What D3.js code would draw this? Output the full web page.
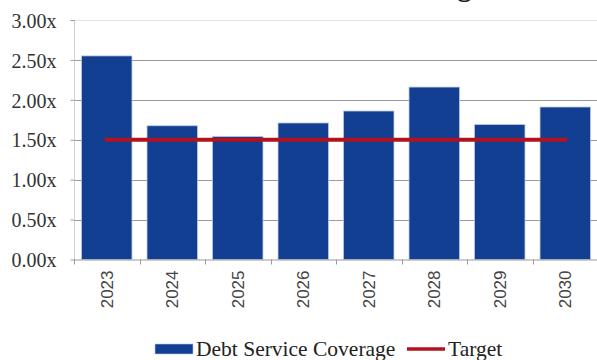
<!DOCTYPE html>
<html>
<head>
<meta charset="utf-8">
<script src="https://cdn.jsdelivr.net/npm/d3@7"></script>
</head>
<body style="margin:0">
<svg id="chart" width="597" height="360"></svg>
<script>
// Debt service coverage by year against the 1.50x target
const years = ["2023", "2024", "2025", "2026", "2027", "2028", "2029", "2030"];
const coverage = [2.55, 1.675, 1.54, 1.71, 1.86, 2.16, 1.69, 1.91];
const target = [1.5, 1.5, 1.5, 1.5, 1.5, 1.5, 1.5, 1.5];
const yTicks = [0, 0.5, 1, 1.5, 2, 2.5, 3];
const seriesNames = ["Debt Service Coverage", "Target"];

const svg = d3.select("#chart").style("display", "block");
const m = { left: 74, right: 598, top: 20, bottom: 259.5 };
const SERIF = '"Liberation Serif"';
const SANS = '"Liberation Sans"';
const barColor = "#123f91";
const lineColor = "#b3121f";

const x = d3.scaleBand().domain(years).range([m.left, m.right]).paddingInner(0.23).paddingOuter(0.115);
const y = d3.scaleLinear().domain([0, 3]).range([m.bottom, m.top]);

// Title (mostly above the visible area)
svg.append("text")
  .attr("x", 484).attr("y", -4)
  .attr("text-anchor", "end")
  .style("font-family", SERIF).style("font-weight", "bold").style("font-size", "28px")
  .attr("fill", "#222")
  .text("Debt Service Coverage");

// Gridlines
svg.append("g").selectAll("line").data(yTicks.filter(d => d > 0)).join("line")
  .attr("x1", m.left).attr("x2", m.right)
  .attr("y1", d => Math.round(y(d)) + 0.5).attr("y2", d => Math.round(y(d)) + 0.5)
  .attr("stroke", d => d === 3 ? "#e2e2e2" : "#9a9a9a")
  .attr("stroke-width", d => d === 3 ? 1 : 1.2);

// Y axis
const yAxis = d3.axisLeft(y).tickValues(yTicks).tickSize(4).tickPadding(14)
  .tickFormat(d => d3.format(".2f")(d) + "x");
const ya = svg.append("g").attr("transform", `translate(${m.left + 0.5},0)`).call(yAxis);
ya.select(".domain").attr("stroke", "#cfcfcf").attr("d", `M0,${m.top}V${m.bottom}`);
ya.selectAll(".tick line").attr("stroke", "#9a9a9a");
ya.selectAll(".tick text")
  .style("font-family", SERIF).style("font-size", "20px")
  .attr("fill", "#333").attr("dy", "0.36em");

// Bars
svg.append("g").selectAll("rect").data(years).join("rect")
  .attr("x", d => x(d))
  .attr("width", x.bandwidth())
  .attr("y", (d, i) => y(coverage[i]))
  .attr("height", (d, i) => y(0) - y(coverage[i]))
  .attr("fill", barColor)
  .attr("stroke", "#b8c6e0").attr("stroke-width", 0.8);

// X axis
const step = x.step();
const xa = svg.append("g").attr("transform", `translate(0,${m.bottom})`);
xa.append("line").attr("x1", m.left).attr("x2", m.right).attr("y1", 0.5).attr("y2", 0.5)
  .attr("stroke", "#9a9a9a").attr("stroke-width", 1.2);
xa.selectAll(".tk").data(d3.range(years.length + 1)).join("line").attr("class", "tk")
  .attr("x1", i => Math.round(m.left + i * step) + 0.5).attr("x2", i => Math.round(m.left + i * step) + 0.5)
  .attr("y1", 0).attr("y2", 5).attr("stroke", "#9a9a9a");
xa.selectAll("text").data(years).join("text")
  .attr("transform", d => `translate(${x(d) + x.bandwidth() / 2 + 6},${11}) rotate(-90)`)
  .attr("text-anchor", "end")
  .style("font-family", SANS).style("font-size", "17px").attr("fill", "#444")
  .text(d => d);

// Target line
const line = d3.line().x((d, i) => x(years[i]) + x.bandwidth() / 2).y(d => y(d));
svg.append("path").datum(target)
  .attr("d", line)
  .attr("fill", "none").attr("stroke", lineColor).attr("stroke-width", 4)
  .attr("stroke-linecap", "square");

// Legend
const lg = svg.append("g");
lg.append("rect").attr("x", 155).attr("y", 344).attr("width", 38).attr("height", 10)
  .attr("fill", barColor).attr("stroke", "#b8c6e0").attr("stroke-width", 0.6);
lg.append("text").attr("x", 196).attr("y", 356)
  .style("font-family", SERIF).style("font-size", "21.5px").attr("fill", "#222")
  .text(seriesNames[0]);
lg.append("line").attr("x1", 407).attr("x2", 445).attr("y1", 349).attr("y2", 349)
  .attr("stroke", lineColor).attr("stroke-width", 3.5);
lg.append("text").attr("x", 448).attr("y", 356)
  .style("font-family", SERIF).style("font-size", "21.5px").attr("fill", "#222")
  .text(seriesNames[1]);
</script>
</body>
</html>
